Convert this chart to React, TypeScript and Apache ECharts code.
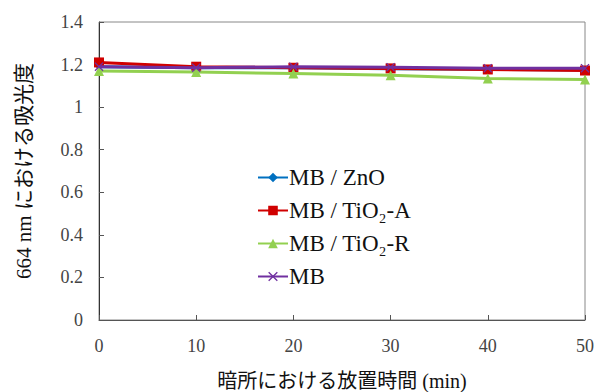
import React, { useEffect, useRef } from "react";
import * as echarts from "echarts";

const times = [0, 10, 20, 30, 40, 50];
const yTicks = ["0", "0.2", "0.4", "0.6", "0.8", "1", "1.2", "1.4"];
const seriesNames = ["MB / ZnO", "MB / TiO₂-A", "MB / TiO₂-R", "MB"];
const znoValues = [1.19, 1.185, 1.185, 1.18, 1.178, 1.175];
const tioAValues = [1.21, 1.19, 1.185, 1.182, 1.177, 1.172];
const tioRValues = [1.17, 1.165, 1.158, 1.15, 1.135, 1.13];
const mbValues = [1.19, 1.185, 1.19, 1.188, 1.183, 1.183];

const colors = ["#0070C0", "#D00000", "#92D050", "#7030A0"];
const X_PATH =
  "path://M0,1L1,0L5,4L9,0L10,1L6,5L10,9L9,10L5,6L1,10L0,9L4,5Z";
const symbols = ["diamond", "rect", "triangle", X_PATH];
const symbolSizes = [7, 10, 10, 9];

export default function App() {
  const ref = useRef<HTMLDivElement>(null);
  useEffect(() => {
    if (!ref.current) return;
    const chart = echarts.init(ref.current, null, { renderer: "svg" });
    const allValues = [znoValues, tioAValues, tioRValues, mbValues];
    const serif = "Liberation Serif";
    const jp = "Liberation Serif, Noto Sans CJK JP";
    chart.setOption({
      animation: false,
      backgroundColor: "#ffffff",
      grid: {
        left: 99,
        right: 12,
        top: 22,
        bottom: 72,
        show: true,
        borderColor: "#888888",
        borderWidth: 1,
        outerBoundsMode: "none",
        containLabel: false,
      },
      legend: {
        orient: "vertical",
        left: 252,
        top: 161,
        itemGap: 10,
        itemWidth: 30,
        itemHeight: 12,
        textStyle: { fontFamily: serif, fontSize: 23, color: "#111", padding: [0, 0, 0, -4] },
        data: seriesNames,
      },
      xAxis: {
        type: "value",
        min: 0,
        max: 50,
        interval: 10,
        name: "暗所における放置時間 (min)",
        nameLocation: "middle",
        nameGap: 51,
        nameTextStyle: { fontFamily: jp, fontSize: 20, color: "#111" },
        axisLine: { lineStyle: { color: "#555", width: 1 } },
        axisTick: { inside: true, length: 5, lineStyle: { color: "#555" } },
        axisLabel: { fontFamily: serif, fontSize: 18, color: "#444", margin: 17 },
        splitLine: { show: false },
      },
      yAxis: {
        type: "value",
        min: 0,
        max: 1.4,
        interval: 0.2,
        name: "664 nm における吸光度",
        nameLocation: "middle",
        nameGap: 65,
        nameRotate: 90,
        nameTextStyle: { fontFamily: jp, fontSize: 21, color: "#111" },
        axisLine: { show: true, lineStyle: { color: "#333", width: 1 } },
        axisTick: { show: true, inside: true, length: 5, lineStyle: { color: "#555" } },
        axisLabel: {
          fontFamily: serif,
          fontSize: 18,
          color: "#444",
          margin: 16,
          formatter: (v: number) => yTicks[Math.round(v / 0.2)] ?? String(v),
        },
        splitLine: { show: false },
      },
      series: seriesNames.map((name, i) => ({
        name,
        type: "line",
        data: times.map((t, j) => [t, allValues[i][j]]),
        symbol: symbols[i],
        symbolSize: symbolSizes[i],
        showAllSymbol: true,
        lineStyle: { color: colors[i], width: 3 },
        itemStyle: { color: colors[i] },
        z: 2 + i,
      })),
    });
    return () => chart.dispose();
  }, []);
  return <div ref={ref} style={{ width: 597, height: 392, position: "absolute", left: 0, top: 0 }} />;
}
